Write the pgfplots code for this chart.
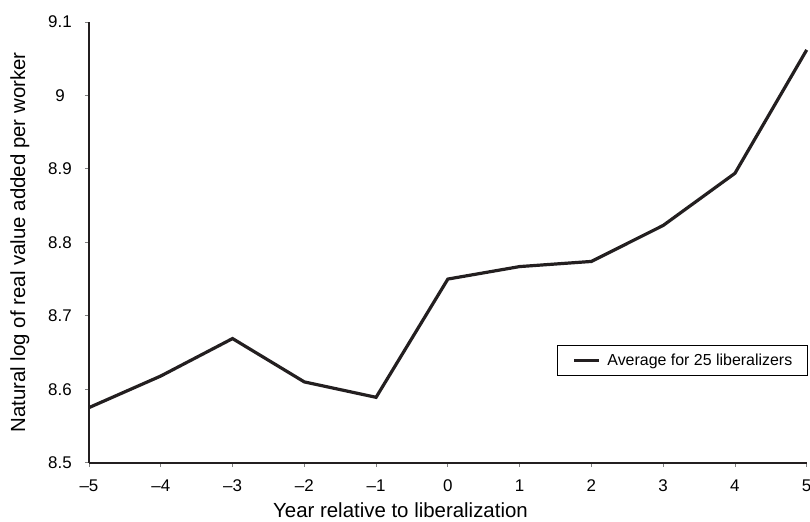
\documentclass[border=0pt]{standalone}
\usepackage{fontspec}
\setmainfont{Liberation Sans}
\usepackage{pgfplots}
\pgfplotsset{compat=1.18}

\definecolor{ink}{HTML}{231F20}

\begin{document}
\begin{tikzpicture}
  \begin{axis}[
    scale only axis,
    width=717.7bp, height=440.7bp,
    xmin=-5, xmax=5,
    ymin=8.5, ymax=9.1,
    axis lines*=left,
    axis line style={ink, line width=1.8bp},
    tick align=outside,
    major tick length=4bp,
    tick style={gray, line width=0.8bp},
    xtick={-5,-4,-3,-2,-1,0,1,2,3,4,5},
    xticklabels={–5,–4,–3,–2,–1,0,1,2,3,4,5},
    ytick={8.5,8.6,8.7,8.8,8.9,9.0,9.1},
    yticklabels={8.5,8.6,8.7,8.8,8.9,9,9.1},
    xticklabel style={font=\fontsize{17}{20}\selectfont, inner sep=0pt, yshift=-13bp},
    yticklabel style={font=\fontsize{17}{20}\selectfont, inner sep=0pt, anchor=center, xshift=-25bp},
    every axis x label/.style={at={(axis description cs:0.434,-0.1243)}, anchor=base, inner sep=0pt, font=\fontsize{20.5}{24}\selectfont},
    every axis y label/.style={at={(axis description cs:-0.0891,0.5)}, anchor=base, rotate=90, inner sep=0pt, font=\fontsize{20.5}{24}\selectfont},
    xlabel={Year relative to liberalization},
    ylabel={Natural log of real value added per worker},
    legend style={at={(axis description cs:1.0014,0.267)}, anchor=north east,
      draw=black, line width=0.8bp, inner xsep=15bp, inner ysep=8.3bp,
      font=\fontsize{16}{19}\selectfont,
      nodes={inner sep=0pt, text height=11.7bp, text depth=1.7bp}},
    legend cell align=left,
    legend image code/.code={
      \draw[ink, line width=3.2bp] (0bp,0bp) -- (24.7bp,0bp);
      \path (31.7bp,0bp);
    },
    clip=false,
  ]
  \addplot[ink, line width=3.2bp] coordinates {
    (-5,8.575) (-4,8.618) (-3,8.669) (-2,8.610) (-1,8.589) (0,8.750)
    (1,8.767) (2,8.774) (3,8.823) (4,8.894) (5,9.062)
  };
  \legend{Average for 25 liberalizers}
  \end{axis}
  \pgfresetboundingbox
  \path ([xshift=-89bp,yshift=-59.3bp]current axis.south west)
    rectangle ([xshift=3.3bp,yshift=22bp]current axis.north east);
\end{tikzpicture}
\end{document}
